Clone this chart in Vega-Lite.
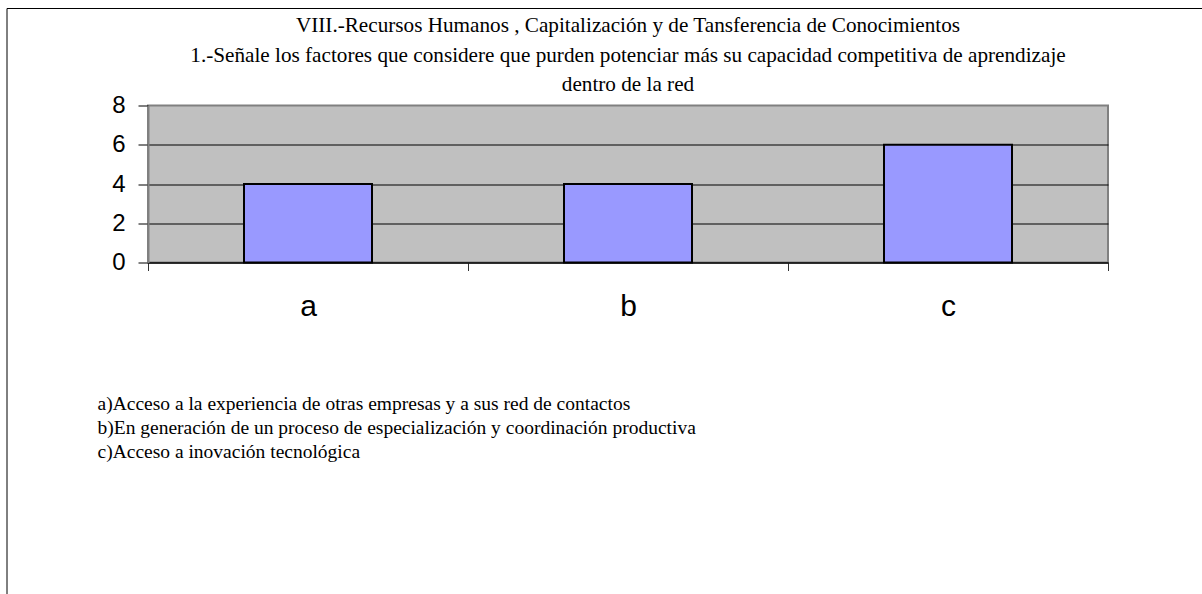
{
  "$schema": "https://vega.github.io/schema/vega-lite/v6.json",
  "width": 960,
  "height": 157,
  "autosize": {"type": "none"},
  "padding": {"left": 148, "top": 105.5, "right": 94, "bottom": 331.5},
  "background": "white",
  "title": {
    "text": [
      "VIII.-Recursos Humanos , Capitalización y  de Tansferencia de Conocimientos",
      "1.-Señale los factores que considere que purden  potenciar más su capacidad competitiva de aprendizaje",
      "dentro de la red"
    ],
    "font": "Liberation Serif",
    "fontSize": 21.2,
    "fontWeight": "normal",
    "color": "black",
    "anchor": "middle",
    "frame": "group",
    "lineHeight": 29.5,
    "offset": -88
  },
  "data": {
    "values": [
      {"cat": "a", "value": 4},
      {"cat": "b", "value": 4},
      {"cat": "c", "value": 6}
    ]
  },
  "mark": {"type": "bar", "width": {"band": 0.4}, "stroke": "black", "strokeWidth": 2},
  "encoding": {
    "x": {
      "field": "cat",
      "type": "nominal",
      "sort": null,
      "scale": {"paddingInner": 0, "paddingOuter": 0},
      "axis": {
        "title": [
          "a)Acceso a la experiencia de otras empresas y a sus red de contactos",
          "b)En generación de un proceso de especialización y coordinación productiva",
          "c)Acceso a inovación  tecnológica"
        ],
        "titleFont": "Liberation Serif",
        "titleFontSize": 19.5,
        "titleFontWeight": "normal",
        "titleColor": "black",
        "titleAlign": "left",
        "titleAnchor": "start",
        "titleX": -51,
        "titleY": 146.5,
        "titleBaseline": "alphabetic",
        "titleLineHeight": 24,
        "labelAngle": 0,
        "labelFont": "Liberation Sans",
        "labelFontSize": 30,
        "labelColor": "black",
        "labelPadding": 21,
        "tickBand": "extent",
        "tickSize": 8,
        "tickColor": "#333333",
        "domainColor": "black",
        "domainWidth": 1,
        "grid": false
      }
    },
    "y": {
      "field": "value",
      "type": "quantitative",
      "scale": {"domain": [0, 8], "nice": false},
      "axis": {
        "title": null,
        "values": [0, 2, 4, 6, 8],
        "labelFont": "Liberation Sans",
        "labelFontSize": 24,
        "labelColor": "black",
        "labelPadding": 13,
        "tickSize": 10,
        "tickColor": "black",
        "domainColor": "#808080",
        "domainWidth": 2,
        "grid": true,
        "gridColor": "#000000",
        "gridWidth": 1,
        "gridOpacity": {"condition": {"test": "datum.value === 8", "value": 0}, "value": 1}
      }
    },
    "fill": {
      "field": "cat",
      "type": "nominal",
      "scale": {"range": ["#9999FF"]},
      "legend": {
        "orient": "none",
        "legendX": -141.5,
        "legendY": -97.5,
        "padding": 700,
        "strokeColor": "black",
        "title": null,
        "labelExpr": "''",
        "symbolOpacity": 0
      }
    }
  },
  "config": {
    "view": {"fill": "#C0C0C0", "stroke": "#808080", "strokeWidth": 2}
  }
}
